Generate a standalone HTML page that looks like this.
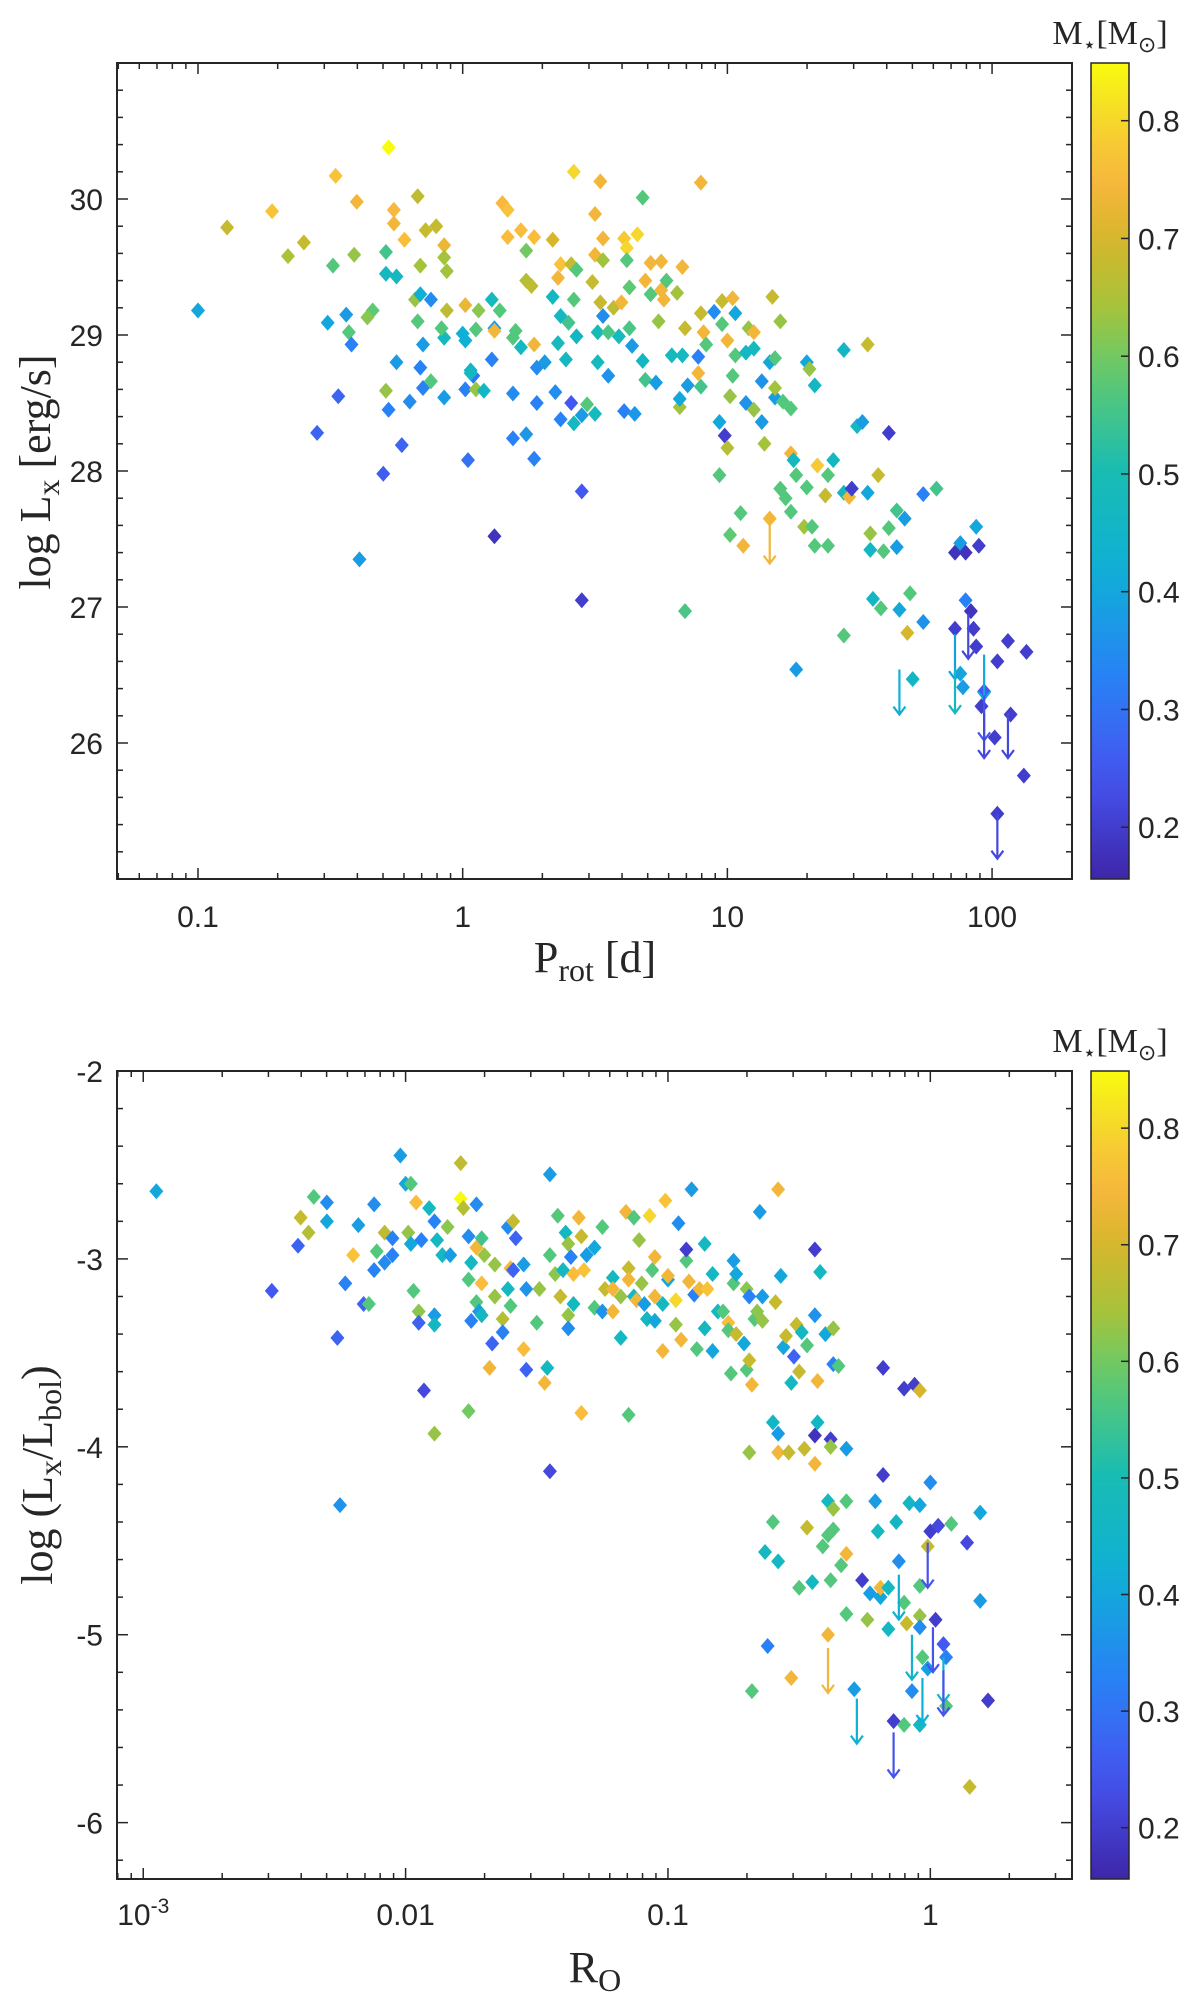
<!DOCTYPE html>
<html><head><meta charset="utf-8"><title>Lx vs Prot and Ro</title>
<style>
html,body{margin:0;padding:0;background:#fff;}
svg{display:block;}
text{fill:#262626;}
.tick{font-family:"Liberation Sans",sans-serif;font-size:30px;}
.lab{font-family:"Liberation Serif",serif;font-size:44px;}
.cbt{font-family:"Liberation Serif",serif;font-size:34px;}
</style></head>
<body>
<svg id="fig" width="1200" height="1997" viewBox="0 0 1200 1997" xmlns="http://www.w3.org/2000/svg">
<defs>
<linearGradient id="parula" x1="0" y1="1" x2="0" y2="0"></linearGradient>
</defs>
<g id="top-panel"></g>
<g id="bot-panel"></g>

<text class="cbt" x="1110" y="44" text-anchor="middle">M<tspan font-size="22" dy="8">⋆</tspan><tspan dy="-8">[M</tspan><tspan font-size="22" dy="8">⊙</tspan><tspan dy="-8">]</tspan></text>
<text class="cbt" x="1110" y="1052" text-anchor="middle">M<tspan font-size="22" dy="8">⋆</tspan><tspan dy="-8">[M</tspan><tspan font-size="22" dy="8">⊙</tspan><tspan dy="-8">]</tspan></text>

<text class="lab" x="595" y="972" text-anchor="middle">P<tspan font-size="32" dy="9">rot</tspan><tspan dy="-9"> [d]</tspan></text>
<text class="lab" transform="translate(50,472) rotate(-90)" text-anchor="middle">log L<tspan font-size="32" dy="9">x</tspan><tspan dy="-9"> [erg/s]</tspan></text>
<text class="lab" x="595" y="1982" text-anchor="middle">R<tspan font-size="32" dy="9">O</tspan></text>
<text class="lab" transform="translate(52,1475) rotate(-90)" text-anchor="middle">log (L<tspan font-size="32" dy="9">x</tspan><tspan dy="-9">/L</tspan><tspan font-size="32" dy="9">bol</tspan><tspan dy="-9">)</tspan></text>
</svg>
<script>
// ---------- TOP PANEL DATA ----------
const topLogP = [-1.00,-0.89,-0.72,-0.66,-0.60,-0.48,-0.40,-0.49,-0.41,-0.28,-0.29,-0.26,-0.26,-0.22,-0.17,-0.14,-0.10,-0.07,-0.07,-0.06,
-0.29,-0.25,-0.16,-0.18,-0.16,-0.12,-0.51,-0.44,-0.34,-0.36,-0.43,-0.42,-0.17,-0.15,-0.16,-0.15,-0.12,-0.25,-0.20,-0.29,
-0.28,-0.47,-0.55,-0.23,-0.30,-0.39,-0.06,-0.07,-0.08,-0.07,0.00,0.01,0.01,0.03,0.04,0.01,0.05,0.05,0.06,0.02,
0.08,0.11,0.14,0.12,0.11,0.12,0.15,0.17,0.17,0.12,0.19,0.20,0.22,0.24,0.24,0.26,0.22,0.19,0.19,0.24,
0.27,0.27,0.28,0.28,0.31,0.27,0.34,0.34,0.36,0.35,0.37,0.36,0.37,0.37,0.39,0.40,0.41,0.42,0.42,0.41,
0.42,0.43,0.43,0.45,0.45,0.45,0.47,0.50,0.49,0.50,0.50,0.51,0.51,0.52,0.53,0.52,0.53,0.53,0.55,0.55,
0.57,0.59,0.60,0.61,0.62,0.62,0.63,0.63,0.61,0.64,0.65,0.66,0.68,0.68,0.69,0.69,0.71,0.71,0.73,0.74,
0.75,0.75,0.77,0.76,0.79,0.81,0.82,0.82,0.83,0.83,0.84,0.84,0.85,0.89,0.89,0.90,0.90,0.90,0.91,0.92,
0.95,0.97,0.97,0.99,0.98,0.98,1.00,1.00,1.01,1.02,1.01,1.02,1.03,1.03,1.05,1.06,1.07,1.07,1.08,1.10,
1.10,1.10,1.13,1.13,1.14,1.16,1.17,1.18,1.18,1.18,1.20,1.20,1.21,1.22,1.24,1.24,1.25,1.24,1.26,1.26,
1.29,1.30,1.30,1.31,1.32,1.33,1.33,1.34,1.37,1.38,1.38,1.40,1.44,1.44,1.44,1.46,1.47,1.49,1.51,1.53,
1.53,1.54,1.55,1.54,1.57,1.58,1.59,1.61,1.61,1.64,1.65,1.64,1.67,1.68,1.69,1.70,1.74,1.79,1.74,1.86,
1.88,1.90,1.94,1.95,1.90,1.92,1.93,1.94,1.88,1.89,1.97,2.02,2.06,2.13,2.07,2.01,2.12,2.02,1.86,1.96,
1.16,0.03];
const topLogLx = [29.18,29.79,29.91,29.58,29.68,30.17,29.98,29.51,29.59,30.38,29.61,29.92,29.82,29.70,30.02,29.77,29.80,29.66,29.57,29.47,
29.45,29.43,29.51,29.26,29.30,29.26,29.09,29.15,29.18,29.13,29.02,28.93,29.10,28.93,28.76,28.61,28.66,28.80,28.51,28.59,
28.45,28.55,28.28,28.19,27.98,27.35,29.18,28.98,29.05,28.54,29.01,28.96,29.22,28.74,28.70,28.60,28.60,29.04,29.18,28.08,
28.59,29.26,29.18,29.05,28.82,27.52,29.97,29.92,29.72,29.03,28.98,29.03,29.77,29.62,29.40,29.36,28.91,28.57,28.24,28.27,
28.09,28.93,28.76,28.50,28.80,29.72,29.70,29.28,28.94,28.58,28.38,29.42,29.52,29.14,28.82,29.09,28.50,28.35,29.26,29.52,
30.20,29.48,28.99,27.85,27.05,28.41,28.49,28.42,29.39,29.59,29.89,28.80,29.02,30.13,29.71,29.24,29.14,29.55,28.70,29.02,
29.20,28.99,29.24,29.71,29.64,29.55,29.35,29.05,28.44,28.92,28.42,29.74,30.01,28.81,29.40,28.67,29.53,29.30,28.65,29.10,
29.54,29.33,29.40,29.26,28.85,29.31,28.47,28.53,28.85,29.50,29.05,26.97,28.63,28.84,28.72,28.62,30.12,29.16,29.02,28.93,
29.17,28.36,27.97,28.26,29.25,29.08,28.96,28.17,28.55,28.70,27.53,29.27,29.16,28.85,27.69,27.45,28.50,28.87,29.05,28.45,
29.02,28.90,28.36,28.66,28.20,28.80,29.28,28.54,28.61,28.83,27.87,29.10,28.51,27.80,28.46,28.13,28.08,27.70,26.54,27.97,
27.59,28.80,27.88,28.75,27.59,27.45,28.63,28.04,27.82,27.97,27.45,28.08,27.84,26.79,28.89,27.81,27.87,28.33,28.36,28.93,
27.84,27.42,27.06,27.54,27.97,26.99,27.41,28.28,27.58,27.44,26.98,27.71,27.65,26.81,27.10,26.47,27.83,27.87,26.89,27.40,
27.47,27.40,27.59,27.45,27.05,26.97,26.84,26.71,26.51,26.41,26.38,26.60,26.75,26.67,26.21,26.04,25.76,25.48,26.84,26.27,
27.65,28.72];
const topMass = [.40,.68,.77,.65,.68,.77,.74,.57,.63,.85,.55,.75,.74,.76,.67,.68,.68,.73,.64,.64,
.47,.47,.64,.63,.42,.35,.40,.38,.58,.62,.57,.33,.57,.38,.33,.33,.57,.38,.35,.63,
.33,.27,.27,.27,.26,.38,.67,.47,.57,.38,.42,.42,.73,.46,.30,.33,.63,.57,.62,.30,
.46,.48,.57,.38,.33,.18,.75,.77,.76,.74,.57,.57,.76,.60,.66,.67,.47,.35,.33,.37,
.33,.74,.35,.33,.38,.76,.70,.47,.48,.35,.33,.74,.77,.47,.47,.55,.25,.47,.57,.68,
.80,.57,.46,.25,.20,.38,.57,.48,.68,.74,.74,.48,.49,.74,.74,.68,.35,.64,.36,.56,
.67,.48,.74,.78,.80,.57,.58,.56,.33,.38,.37,.80,.57,.46,.74,.55,.74,.57,.38,.63,
.74,.74,.57,.74,.48,.64,.64,.40,.47,.74,.68,.56,.38,.33,.74,.55,.74,.68,.74,.57,
.35,.40,.57,.20,.68,.57,.74,.66,.63,.57,.58,.74,.40,.57,.57,.74,.36,.47,.63,.63,
.74,.48,.38,.36,.64,.40,.68,.38,.64,.57,.57,.63,.57,.57,.57,.74,.47,.57,.38,.57,
.64,.40,.57,.63,.57,.57,.46,.78,.68,.57,.57,.47,.46,.57,.46,.74,.20,.47,.38,.68,
.40,.46,.46,.63,.68,.57,.57,.20,.57,.38,.40,.55,.38,.70,.57,.46,.33,.55,.36,.18,
.38,.18,.40,.20,.33,.18,.20,.20,.40,.38,.25,.20,.20,.20,.20,.20,.20,.20,.20,.20,
.74,.47];
// upper limits (top)
const topLimLogP = [1.16,1.65,1.86,1.86,1.91,1.97,1.97,1.97,2.06,2.02];
const topLimLogLx = [27.65,26.54,26.80,26.55,26.95,26.65,26.35,26.22,26.22,25.48];
const topLimMass = [.74,.42,.38,.47,.22,.40,.24,.22,.22,.22];
const topXTicks = [0.1,1,10,100];
const topXTickLabels = ["0.1","1","10","100"];
const topYTicks = [26,27,28,29,30];
const topYTickLabels = ["26","27","28","29","30"];

// ---------- BOTTOM PANEL DATA ----------
const botLogRo = [-2.95,-2.51,-2.41,-2.40,-2.37,-2.35,-2.30,-2.30,-2.26,-2.25,-2.23,-2.20,-2.18,-2.16,-2.14,-2.12,-2.12,-2.11,-2.08,-2.08,
-2.05,-2.05,-2.02,-2.00,-1.99,-1.98,-1.98,-1.97,-1.96,-1.95,-1.95,-1.94,-1.93,-1.91,-1.89,-1.89,-1.89,-1.89,-1.88,-1.86,
-1.84,-1.83,-1.79,-1.79,-1.78,-1.76,-1.76,-1.76,-1.75,-1.75,-1.73,-1.73,-1.73,-1.72,-1.71,-1.71,-1.71,-1.70,-1.68,-1.67,
-1.66,-1.66,-1.63,-1.63,-1.61,-1.61,-1.60,-1.60,-1.59,-1.58,-1.59,-1.55,-1.54,-1.54,-1.55,-1.50,-1.49,-1.47,-1.46,-1.45,
-1.45,-1.45,-1.43,-1.42,-1.41,-1.40,-1.39,-1.38,-1.38,-1.38,-1.37,-1.36,-1.36,-1.34,-1.33,-1.33,-1.32,-1.31,-1.28,-1.28,
-1.25,-1.24,-1.25,-1.21,-1.21,-1.21,-1.18,-1.18,-1.16,-1.15,-1.15,-1.15,-1.13,-1.13,-1.12,-1.11,-1.10,-1.09,-1.08,-1.07,
-1.06,-1.05,-1.05,-1.05,-1.02,-1.02,-1.01,-1.00,-1.00,-0.97,-0.97,-0.96,-0.95,-0.93,-0.93,-0.91,-0.92,-0.90,-0.89,-0.88,
-0.86,-0.85,-0.86,-0.83,-0.83,-0.81,-0.79,-0.77,-0.77,-0.76,-0.75,-0.75,-0.74,-0.74,-0.71,-0.70,-0.70,-0.69,-0.69,-0.68,
-0.69,-0.68,-0.67,-0.66,-0.65,-0.64,-0.64,-0.62,-0.63,-0.60,-0.60,-0.59,-0.58,-0.58,-0.58,-0.58,-0.57,-0.56,-0.55,-0.54,
-0.53,-0.52,-0.53,-0.51,-0.50,-0.50,-0.49,-0.48,-0.47,-0.47,-0.45,-0.44,-0.44,-0.44,-0.44,-0.43,-0.43,-0.42,-0.41,-0.40,
-0.39,-0.39,-0.39,-0.38,-0.38,-0.38,-0.37,-0.37,-0.37,-0.37,-0.35,-0.34,-0.32,-0.32,-0.32,-0.32,-0.29,-0.26,-0.24,-0.23,
-0.21,-0.20,-0.19,-0.19,-0.18,-0.18,-0.16,-0.16,-0.14,-0.13,-0.12,-0.10,-0.10,-0.10,-0.09,-0.08,-0.07,-0.06,-0.04,-0.04,
-0.04,-0.04,-0.04,-0.04,-0.03,-0.01,-0.01,0.00,0.00,0.02,0.03,0.05,0.06,0.06,0.08,0.14,0.15,0.19,0.19,0.22];
const botLogLxLbol = [-2.64,-3.17,-2.93,-2.78,-2.86,-2.67,-2.70,-2.80,-3.42,-4.31,-3.13,-2.98,-2.82,-3.24,-3.24,-2.71,-3.06,-2.96,-2.86,-3.02,
-2.98,-2.89,-2.45,-2.60,-2.86,-2.60,-2.92,-3.17,-2.70,-3.28,-3.34,-2.90,-3.70,-2.73,-2.80,-3.30,-3.35,-3.93,-2.90,-2.98,
-2.83,-2.98,-2.49,-2.68,-2.73,-3.11,-3.81,-2.88,-3.02,-3.33,-2.71,-2.94,-3.23,-3.28,-3.13,-3.30,-2.89,-2.98,-3.58,-3.45,
-3.03,-3.20,-3.32,-3.39,-3.16,-2.83,-3.05,-3.25,-2.80,-2.89,-3.06,-3.03,-3.16,-3.59,-3.48,-3.34,-3.16,-3.66,-3.58,-2.55,
-4.13,-2.98,-3.08,-2.77,-3.20,-3.06,-2.86,-2.92,-3.30,-3.37,-2.99,-3.08,-3.24,-2.78,-3.82,-2.88,-3.06,-2.98,-2.94,-3.26,
-2.83,-3.16,-3.28,-3.10,-3.16,-3.28,-3.20,-3.42,-2.75,-3.05,-3.83,-3.11,-3.20,-2.78,-3.22,-2.90,-3.13,-3.24,-3.32,-2.77,
-3.06,-2.99,-3.20,-3.33,-3.49,-3.24,-2.69,-3.11,-3.09,-3.22,-3.35,-2.81,-3.43,-3.01,-2.95,-2.63,-3.12,-3.19,-3.48,-3.16,
-2.92,-3.16,-3.37,-3.08,-3.49,-3.28,-3.28,-3.34,-3.38,-3.61,-3.01,-3.13,-3.08,-3.40,-3.45,-3.59,-3.16,-3.20,-3.54,-3.67,
-4.03,-5.30,-3.32,-3.28,-2.75,-3.20,-3.33,-5.06,-4.56,-3.87,-4.40,-3.23,-2.63,-3.93,-4.03,-4.61,-3.09,-3.47,-3.41,-4.03,
-5.23,-3.52,-3.66,-3.35,-4.75,-3.60,-3.39,-4.01,-3.46,-4.43,-4.72,-3.30,-2.95,-4.09,-3.94,-3.87,-3.65,-3.07,-4.53,-3.40,
-5.00,-4.29,-4.47,-4.71,-3.96,-4.00,-4.33,-3.37,-4.44,-3.56,-3.57,-4.63,-4.01,-4.29,-4.89,-4.57,-5.29,-4.71,-4.92,-4.78,
-4.29,-4.45,-4.80,-4.75,-3.58,-4.15,-4.97,-4.75,-5.46,-4.40,-4.61,-4.83,-3.69,-5.48,-4.94,-4.30,-5.30,-3.67,-4.90,-4.74,
-5.48,-3.70,-4.31,-4.96,-5.12,-4.53,-5.18,-4.19,-4.45,-4.92,-4.42,-5.05,-5.12,-5.38,-4.41,-4.51,-5.81,-4.35,-4.82,-5.35];
const botMass = [.40,.25,.27,.68,.66,.57,.35,.40,.27,.36,.33,.77,.38,.27,.57,.35,.33,.57,.67,.35,
.33,.33,.38,.40,.63,.57,.40,.57,.76,.62,.27,.33,.22,.47,.33,.38,.46,.63,.47,.47,
.62,.38,.67,.85,.66,.57,.60,.35,.47,.33,.35,.74,.57,.38,.76,.47,.55,.63,.74,.27,
.63,.63,.66,.33,.47,.35,.74,.57,.68,.27,.27,.38,.36,.27,.76,.57,.63,.74,.47,.38,
.22,.57,.62,.57,.68,.47,.47,.63,.63,.35,.33,.76,.47,.74,.76,.68,.77,.38,.40,.57,
.57,.68,.36,.47,.74,.74,.63,.47,.74,.68,.57,.74,.47,.57,.74,.63,.63,.38,.47,.80,
.57,.74,.74,.40,.74,.47,.77,.40,.74,.80,.63,.35,.74,.57,.20,.38,.74,.33,.57,.74,
.47,.77,.47,.47,.40,.47,.57,.76,.57,.57,.38,.57,.40,.68,.40,.57,.62,.33,.68,.74,
.63,.57,.57,.62,.38,.38,.63,.33,.47,.46,.57,.68,.74,.38,.74,.47,.40,.40,.68,.68,
.74,.27,.47,.68,.57,.68,.47,.68,.57,.68,.47,.36,.20,.74,.18,.46,.74,.47,.57,.40,
.74,.47,.57,.57,.20,.63,.63,.63,.57,.33,.57,.57,.38,.57,.57,.74,.38,.20,.63,.38,
.38,.47,.40,.74,.20,.20,.47,.47,.20,.46,.35,.57,.20,.57,.68,.46,.35,.20,.63,.57,
.46,.70,.40,.35,.57,.68,.38,.35,.20,.20,.22,.25,.33,.57,.57,.22,.68,.40,.38,.20];
const botLimLogRo = [-0.39,-0.28,-0.14,-0.12,-0.07,-0.03,-0.01,0.01,0.05,0.05];
const botLimLogLxLbol = [-5.07,-5.34,-5.52,-4.68,-5.00,-5.23,-4.51,-4.96,-5.12,-5.19];
const botLimMass = [.74,.42,.24,.42,.44,.42,.24,.24,.45,.24];
const botXTicks = [0.001,0.01,0.1,1];
const botXTickLabels = ["10^-3","0.01","0.1","1"];
const botYTicks = [-6,-5,-4,-3,-2];
const botYTickLabels = ["-6","-5","-4","-3","-2"];

const cbTicks = [0.2,0.3,0.4,0.5,0.6,0.7,0.8];
const cbTickLabels = ["0.2","0.3","0.4","0.5","0.6","0.7","0.8"];
const cMin = 0.156, cMax = 0.849;

// ---------- colormap (parula-like) ----------
const cmapStops = [[0,62,38,168],[0.125,70,84,240],[0.25,40,130,245],[0.375,15,175,215],[0.5,25,188,178],[0.625,100,202,108],[0.7,165,195,60],[0.78,212,182,42],[0.86,250,183,62],[0.93,245,215,45],[1,249,251,14]];
function cmap(t){
  t=Math.max(0,Math.min(1,t));
  for(let i=1;i<cmapStops.length;i++){
    const a=cmapStops[i-1],b=cmapStops[i];
    if(t<=b[0]){const f=(t-a[0])/(b[0]-a[0]);
      return 'rgb('+Math.round(a[1]+f*(b[1]-a[1]))+','+Math.round(a[2]+f*(b[2]-a[2]))+','+Math.round(a[3]+f*(b[3]-a[3]))+')';}
  }
  return 'rgb(249,251,14)';
}
function massColor(m){return cmap((m-cMin)/(cMax-cMin));}

const NS='http://www.w3.org/2000/svg';
function mk(tag,parent,attrs){const e=document.createElementNS(NS,tag);for(const k in attrs)e.setAttribute(k,attrs[k]);parent.appendChild(e);return e;}

const grad=document.getElementById('parula');
for(let i=0;i<=20;i++){const t=i/20;mk('stop',grad,{offset:t,'stop-color':cmap(t)});}

const AX={left:117,right:1072};
function buildPanel(g,cfg){
  const {top,bottom,xmin,xmax,ymin,ymax}=cfg;
  const sx=v=>AX.left+(v-xmin)/(xmax-xmin)*(AX.right-AX.left);
  const sy=v=>bottom-(v-ymin)/(ymax-ymin)*(bottom-top);
  // frame
  const fr=mk('rect',g,{x:AX.left,y:top,width:AX.right-AX.left,height:bottom-top,fill:'#fff',stroke:'#262626','stroke-width':2});
  
  
  // log x ticks
  const tg=mk('g',g,{stroke:'#262626','stroke-width':1.5});
  
  
  for(let d=Math.floor(xmin);d<=Math.ceil(xmax);d++){
    for(let k=1;k<=9;k++){
      const lv=d+Math.log10(k); if(lv<xmin||lv>xmax)continue;
      const x=sx(lv), L=(k===1)?11:6;
      mk('line',tg,{x1:x,y1:bottom,x2:x,y2:bottom-L});
      mk('line',tg,{x1:x,y1:top,x2:x,y2:top+L});
    }
  }
  for(let v=Math.ceil(ymin*5)/5;v<=ymax+1e-9;v+=0.2){
    const y=sy(v), major=Math.abs(v-Math.round(v))<1e-6, L=major?11:6;
    mk('line',tg,{x1:AX.left,y1:y,x2:AX.left+L,y2:y});
    mk('line',tg,{x1:AX.right,y1:y,x2:AX.right-L,y2:y});
  }
  // tick labels
  cfg.xTicks.forEach((v,i)=>{
    const lab=cfg.xLabels[i];
    const t=mk('text',g,{x:sx(Math.log10(v)),y:cfg.xLabelY,'text-anchor':'middle',class:'tick'});
    
    
    if(lab.indexOf('^')>=0){const p=lab.split('^');t.textContent=p[0];const s=mk('tspan',t,{dy:-12,'font-size':21});s.textContent=p[1];}
    else t.textContent=lab;
  });
  cfg.yTicks.forEach((v,i)=>{
    const t=mk('text',g,{x:103,y:sy(v)+11,'text-anchor':'end',class:'tick'});
    
    
    t.textContent=cfg.yLabels[i];
  });
  // points
  const pg=mk('g',g,{});
  
  
  for(let i=0;i<cfg.xs.length;i++){
    const x=sx(cfg.xs[i]),y=sy(cfg.ys[i]);
    const p=mk('polygon',pg,{points:`${x},${y-8} ${x+7},${y} ${x},${y+8} ${x-7},${y}`,fill:massColor(cfg.ms[i])});
    
    
  }
  // upper limits
  const ag=mk('g',g,{fill:'none','stroke-width':2.2});
  
  
  for(let i=0;i<cfg.lx.length;i++){
    const x=sx(cfg.lx[i]),y=sy(cfg.ly[i]),c=massColor(cfg.lm[i]);
    const a=mk('path',ag,{d:`M${x},${y} L${x},${y+45} M${x-6},${y+37} L${x},${y+45} L${x+6},${y+37}`,stroke:c});
    
    
  }
  // colorbar
  const cb=mk('g',g,{});
  
  
  mk('rect',cb,{x:1091,y:top,width:38,height:bottom-top,fill:'url(#parula)',stroke:'#262626','stroke-width':1.5});
  const cy=v=>bottom-(v-cMin)/(cMax-cMin)*(bottom-top);
  cbTicks.forEach((v,i)=>{
    mk('line',cb,{x1:1129,y1:cy(v),x2:1121,y2:cy(v),stroke:'#262626','stroke-width':1.5});
    const t=mk('text',cb,{x:1138,y:cy(v)+11,class:'tick'});
    
    
    t.textContent=cbTickLabels[i];
  });
}
buildPanel(document.getElementById('top-panel'),{prefix:'top',top:63,bottom:879,xmin:-1.306,xmax:2.302,ymin:25.0,ymax:31.0,
  xTicks:topXTicks,xLabels:topXTickLabels,yTicks:topYTicks,yLabels:topYTickLabels,xLabelY:927,
  xs:topLogP,ys:topLogLx,ms:topMass,lx:topLimLogP,ly:topLimLogLx,lm:topLimMass});
buildPanel(document.getElementById('bot-panel'),{prefix:'bottom',top:1071,bottom:1879,xmin:-3.10,xmax:0.54,ymin:-6.30,ymax:-2.0,
  xTicks:botXTicks,xLabels:botXTickLabels,yTicks:botYTicks,yLabels:botYTickLabels,xLabelY:1925,
  xs:botLogRo,ys:botLogLxLbol,ms:botMass,lx:botLimLogRo,ly:botLimLogLxLbol,lm:botLimMass});
</script>
</body></html>
